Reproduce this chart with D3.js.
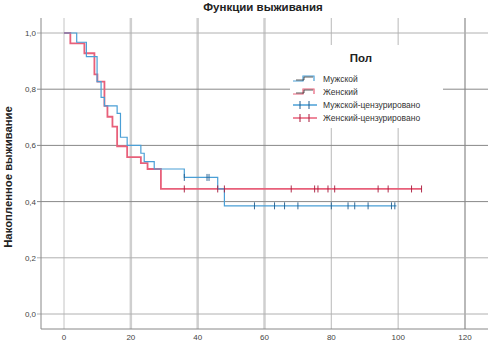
<!DOCTYPE html>
<html><head><meta charset="utf-8">
<script src="https://cdn.jsdelivr.net/npm/d3@7"></script>
<style>body{margin:0;background:#fff}svg{display:block}text{font-family:"Liberation Sans",Arial,sans-serif}</style>
</head><body><svg id="c" width="488" height="342"></svg>
<script>
const title = "Функции выживания";
const yLabel = "Накопленное выживание";
const legendTitle = "Пол";
const seriesNames = ["Мужской", "Женский", "Мужской-цензурировано", "Женский-цензурировано"];
const xTicks = [0, 20, 40, 60, 80, 100, 120];
const yTicks = [0, 0.2, 0.4, 0.6, 0.8, 1.0];

const maleTimes = [0, 3.8, 6.7, 9.9, 11.1, 12.1, 15.9, 16.9, 18.9, 23, 24, 27, 36, 46, 48, 99.5];
const maleSurv  = [1, 0.967, 0.916, 0.827, 0.771, 0.741, 0.714, 0.629, 0.600, 0.572, 0.542, 0.516, 0.486, 0.445, 0.385, 0.385];
const femaleTimes = [0, 1.9, 6.1, 9.1, 10, 12.1, 13, 14.5, 15.9, 18.9, 23, 25, 29, 107];
const femaleSurv  = [1, 0.963, 0.928, 0.853, 0.827, 0.741, 0.702, 0.667, 0.597, 0.558, 0.537, 0.516, 0.445, 0.445];
const maleCensorTimes = [36, 42.8, 43.4, 57, 63, 66, 70, 80, 85, 87, 91, 98, 99];
const maleCensorSurv  = [0.486, 0.486, 0.486, 0.385, 0.385, 0.385, 0.385, 0.385, 0.385, 0.385, 0.385, 0.385, 0.385];
const femaleCensorTimes = [36, 46, 48, 68, 75, 76, 79, 81, 94, 97, 104, 107];
const femaleCensorSurv  = [0.445, 0.445, 0.445, 0.445, 0.445, 0.445, 0.445, 0.445, 0.445, 0.445, 0.445, 0.445];

const blue = "#4a9fd6", red = "#e8607a", blueDark = "#1e5b8c", redDark = "#a8193a";

const svg = d3.select("#c");
const frame = {l: 41, r: 488, t: 18, b: 329};
const x = d3.scaleLinear().domain([0, 120]).range([64, 465]);
const y = d3.scaleLinear().domain([0, 1]).range([314, 33]);

// vertical gridlines
const vStyle = {0: ["#c4c4c4", 1], 20: ["#cfcfcf", 2.5], 40: ["#cfcfcf", 2.5], 60: ["#cfcfcf", 2.5], 80: ["#c4c4c4", 1.2], 100: ["#c4c4c4", 1.2], 120: ["#8a8a8a", 1.2]};
svg.append("g").selectAll("line").data(xTicks).join("line")
  .attr("x1", d => x(d)).attr("x2", d => x(d)).attr("y1", frame.t).attr("y2", frame.b)
  .attr("stroke", d => vStyle[d][0]).attr("stroke-width", d => vStyle[d][1]);
// horizontal gridlines
const hStyle = {"0": "#b0b0b0", "0.2": "#b0b0b0", "0.4": "#888", "0.6": "#888", "0.8": "#888", "1": "#b0b0b0"};
svg.append("g").selectAll("line").data(yTicks).join("line")
  .attr("x1", 37).attr("x2", frame.r).attr("y1", d => y(d)).attr("y2", d => y(d))
  .attr("stroke", d => hStyle[String(+d.toFixed(1))]).attr("stroke-width", 1);

// axis frame
svg.append("line").attr("x1", frame.l).attr("x2", frame.l).attr("y1", frame.t).attr("y2", frame.b).attr("stroke", "#888");
svg.append("line").attr("x1", frame.l).attr("x2", frame.r).attr("y1", frame.b).attr("y2", frame.b).attr("stroke", "#888");

const fmt = d => d3.format(".1f")(d).replace(".", ",");
svg.append("g").selectAll("text").data(yTicks).join("text")
  .attr("x", 36).attr("y", d => y(d) + 3).attr("text-anchor", "end")
  .attr("font-size", 8).attr("fill", "#444").text(fmt);
svg.append("g").selectAll("text").data(xTicks).join("text")
  .attr("x", d => x(d)).attr("y", 340).attr("text-anchor", "middle")
  .attr("font-size", 8).attr("fill", "#444").text(d => d);

svg.append("text").attr("x", 263).attr("y", 11).attr("text-anchor", "middle")
  .attr("font-size", 11.5).attr("font-weight", "bold").attr("fill", "#222").text(title);
svg.append("text").attr("transform", "translate(12,177) rotate(-90)").attr("text-anchor", "middle")
  .attr("font-size", 11.3).attr("font-weight", "bold").attr("fill", "#222").text(yLabel);

// legend box
const lg = svg.append("g");
lg.append("rect").attr("x", 290).attr("y", 45).attr("width", 153).attr("height", 83).attr("fill", "#fff");
lg.append("text").attr("x", 361).attr("y", 62).attr("text-anchor", "middle")
  .attr("font-size", 11.5).attr("font-weight", "bold").attr("fill", "#222").text(legendTitle);

// curves
const line = d3.line().x(d => x(d[0])).y(d => y(d[1])).curve(d3.curveStepAfter);
const maleData = d3.zip(maleTimes, maleSurv);
const femaleData = d3.zip(femaleTimes, femaleSurv);
svg.append("path").attr("d", line(femaleData)).attr("fill", "none").attr("stroke", red).attr("stroke-width", 1.8);
svg.append("path").attr("d", line(maleData)).attr("fill", "none").attr("stroke", blue).attr("stroke-width", 1.2);

// censor ticks
svg.append("g").selectAll("line").data(d3.zip(maleCensorTimes, maleCensorSurv)).join("line")
  .attr("x1", d => x(d[0])).attr("x2", d => x(d[0])).attr("y1", d => y(d[1]) - 3.5).attr("y2", d => y(d[1]) + 3.5)
  .attr("stroke", blueDark).attr("stroke-width", 0.9);
svg.append("g").selectAll("line").data(d3.zip(femaleCensorTimes, femaleCensorSurv)).join("line")
  .attr("x1", d => x(d[0])).attr("x2", d => x(d[0])).attr("y1", d => y(d[1]) - 3.5).attr("y2", d => y(d[1]) + 3.5)
  .attr("stroke", redDark).attr("stroke-width", 0.9);

// legend entries
const ly = [79, 92, 105, 118];
const lcol = [blue, red, blue, red];
const ldark = [blueDark, redDark, blueDark, redDark];
seriesNames.forEach((name, i) => {
  const yy = ly[i];
  if (i < 2) {
    lg.append("path").attr("d", `M293,${yy+2}H303V${yy-3}H314V${yy+2}`).attr("fill", "none").attr("stroke", lcol[i]).attr("stroke-width", 1.2);
    lg.append("path").attr("d", `M296,${yy+1}H304V${yy-2}H313`).attr("fill", "none").attr("stroke", "#333").attr("stroke-width", 0.8);
  } else {
    lg.append("line").attr("x1", 293).attr("x2", 317).attr("y1", yy).attr("y2", yy).attr("stroke", lcol[i]).attr("stroke-width", 1.5);
    lg.append("line").attr("x1", 300).attr("x2", 300).attr("y1", yy - 4).attr("y2", yy + 4).attr("stroke", ldark[i]);
    lg.append("line").attr("x1", 309).attr("x2", 309).attr("y1", yy - 4).attr("y2", yy + 4).attr("stroke", ldark[i]);
  }
  lg.append("text").attr("x", 323).attr("y", yy + 3).attr("font-size", 8.5).attr("fill", "#333").text(name);
});
</script></body></html>
